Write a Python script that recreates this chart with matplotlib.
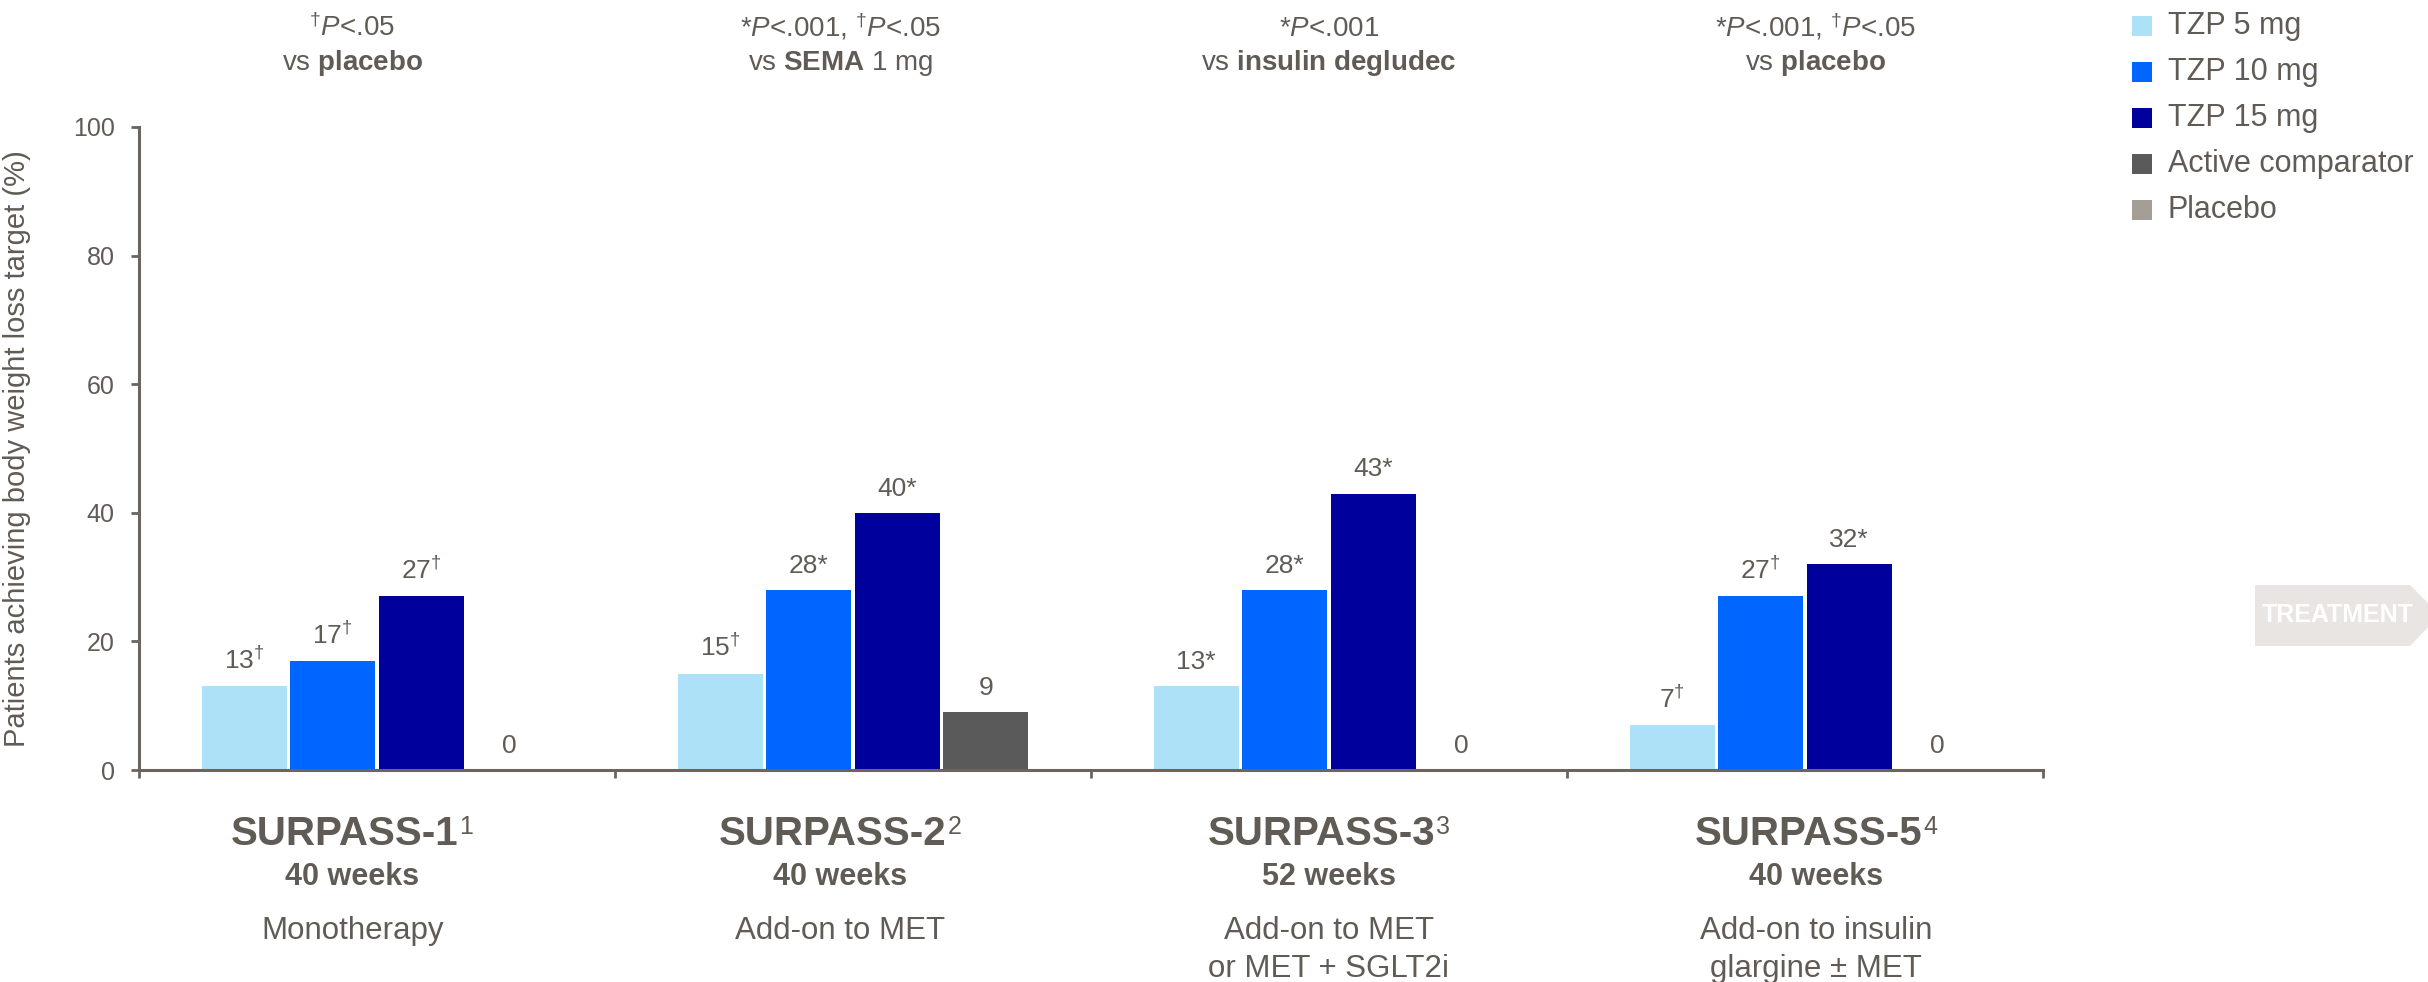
import matplotlib
matplotlib.use("Agg")
import matplotlib.pyplot as plt
import numpy as np
from matplotlib.transforms import blended_transform_factory, offset_copy
from matplotlib.patches import Rectangle, Polygon

# ---- data -------------------------------------------------------------
trials = ["SURPASS-1", "SURPASS-2", "SURPASS-3", "SURPASS-5"]
trial_refs = ["1", "2", "3", "4"]
durations = ["40 weeks", "40 weeks", "52 weeks", "40 weeks"]
settings = [["Monotherapy"], ["Add-on to MET"],
            ["Add-on to MET", "or MET + SGLT2i"],
            ["Add-on to insulin", "glargine ± MET"]]
sig_notes = [r"$^{\mathrm{†}}\mathit{P}$<.05",
             r"*$\mathit{P}$<.001, $^{\mathrm{†}}\mathit{P}$<.05",
             r"*$\mathit{P}$<.001",
             r"*$\mathit{P}$<.001, $^{\mathrm{†}}\mathit{P}$<.05"]
vs_notes = [r"vs $\mathbf{placebo}$", r"vs $\mathbf{SEMA}$ 1 mg",
            r"vs $\mathbf{insulin}$ $\mathbf{degludec}$", r"vs $\mathbf{placebo}$"]

tzp5 = [13, 15, 13, 7]
tzp10 = [17, 28, 28, 27]
tzp15 = [27, 40, 43, 32]
control = [0, 9, 0, 0]
control_kind = ["Placebo", "Active comparator", "Active comparator", "Placebo"]

tzp5_sig = ["†", "†", "*", "†"]
tzp10_sig = ["†", "*", "*", "†"]
tzp15_sig = ["†", "*", "*", "*"]
control_sig = ["", "", "", ""]

legend_labels = ["TZP 5 mg", "TZP 10 mg", "TZP 15 mg", "Active comparator", "Placebo"]
yticks = [0, 20, 40, 60, 80, 100]
ylabel = "Patients achieving body weight loss target (%)"

# ---- style ------------------------------------------------------------
colors = {"TZP 5 mg": "#ADE1F8", "TZP 10 mg": "#0066FF", "TZP 15 mg": "#00009C",
          "Active comparator": "#5A5A5A", "Placebo": "#A59E96"}
TXT = "#615B55"
AX = "#6B6560"
SANS = "Liberation Sans"

plt.rcParams["font.family"] = [SANS, "DejaVu Sans"]
plt.rcParams["mathtext.fontset"] = "custom"
plt.rcParams["mathtext.rm"] = SANS
plt.rcParams["mathtext.it"] = SANS + ":italic"
plt.rcParams["mathtext.bf"] = SANS + ":bold"

W, H, DPI = 2428, 982, 100
fig = plt.figure(figsize=(W / DPI, H / DPI), dpi=DPI)

x_left, x_right, y_zero, y_top = 139, 2043, 770, 127
ax = fig.add_axes([x_left / W, 1 - y_zero / H, (x_right - x_left) / W, (y_zero - y_top) / H])
ax.set_xlim(-0.5, 3.5)
ax.set_ylim(0, 100)

def fy(px):
    return 1 - px / H

# ---- bars -------------------------------------------------------------
step, width = 0.186, 0.179
x = np.arange(len(trials))
series = [(tzp5, tzp5_sig, ["TZP 5 mg"] * 4),
          (tzp10, tzp10_sig, ["TZP 10 mg"] * 4),
          (tzp15, tzp15_sig, ["TZP 15 mg"] * 4),
          (control, control_sig, control_kind)]

for k, (vals, sigs, kinds) in enumerate(series):
    pos = x + (k - 1.5) * step
    ax.bar(pos, vals, width=width, color=[colors[c] for c in kinds],
           linewidth=0, zorder=2)
    for xp, v, s in zip(pos, vals, sigs):
        label = f"{v}"
        if s == "†":
            label += r"$^{\mathrm{†}}$"
        elif s == "*":
            label += "*"
        ax.annotate(label, (xp, v), xytext=(0, 12.3), textcoords="offset points",
                    ha="center", va="baseline", fontsize=19, color=TXT)

# ---- axes -------------------------------------------------------------
for side in ["top", "right"]:
    ax.spines[side].set_visible(False)
for side in ["left", "bottom"]:
    ax.spines[side].set_color(AX)
    ax.spines[side].set_linewidth(2.2)
ax.set_yticks(yticks)
ax.set_yticklabels([str(t) for t in yticks], fontsize=18, color=TXT)
ax.tick_params(axis="y", length=5.5, width=2.0, color=AX, pad=12)
ax.set_xticks(np.arange(-0.5, 4.0, 1.0))
ax.set_xticklabels([])
ax.tick_params(axis="x", length=6, width=2.0, color=AX)
ax.set_ylabel(ylabel, fontsize=21, color=TXT)
ax.yaxis.set_label_coords((31 - x_left) / (x_right - x_left), 0.5)

# ---- group captions ---------------------------------------------------
caption_shift = [-0.052, -0.027, 0.0, 0.023]
trans = blended_transform_factory(ax.transData, fig.transFigure)
renderer = fig.canvas.get_renderer()
for i in range(len(trials)):
    cx = i + caption_shift[i]
    ax.text(cx, fy(36), sig_notes[i], transform=trans, ha="center", va="baseline",
            fontsize=20, color=TXT)
    ax.text(cx, fy(70), vs_notes[i], transform=trans, ha="center", va="baseline",
            fontsize=20, color=TXT)

    # trial name followed by its reference number as a superscript
    name = ax.text(cx, fy(845), trials[i], transform=trans, ha="center",
                   va="baseline", fontsize=29, fontweight="bold", color=TXT)
    ref = ax.text(cx, fy(845), trial_refs[i], transform=trans, ha="left",
                  va="baseline", fontsize=18, color=TXT)
    w_name = name.get_window_extent(renderer).width
    w_ref = ref.get_window_extent(renderer).width
    gap = 1
    shift = (w_ref + gap) / 2 * 72 / DPI
    name.set_transform(offset_copy(trans, fig=fig, x=-shift, y=0, units="points"))
    ref.set_transform(offset_copy(trans, fig=fig,
                                  x=(w_name / 2 + gap) * 72 / DPI - shift,
                                  y=11 * 72 / DPI, units="points"))

    ax.text(cx, fy(885), durations[i], transform=trans, ha="center", va="baseline",
            fontsize=22, fontweight="bold", color=TXT)
    for j, line in enumerate(settings[i]):
        ax.text(cx, fy(939 + 38 * j), line, transform=trans, ha="center",
                va="baseline", fontsize=22.5, color=TXT)

# ---- legend -----------------------------------------------------------
for r, name in enumerate(legend_labels):
    yc = 26 + 46 * r
    fig.add_artist(Rectangle((2132 / W, fy(yc + 10)), 20 / W, 20 / H,
                             transform=fig.transFigure, color=colors[name], lw=0))
    fig.text(2168 / W, fy(yc), name, ha="left", va="center", fontsize=22, color=TXT)

# ---- section tag ------------------------------------------------------
tag = np.array([(2255, 585), (2410, 585), (2440, 615), (2410, 646), (2255, 646)], float)
tag[:, 0] /= W
tag[:, 1] = 1 - tag[:, 1] / H
fig.add_artist(Polygon(tag, closed=True, transform=fig.transFigure,
                       facecolor="#E8E5E2", edgecolor="none"))
fig.text(2338 / W, fy(615), "TREATMENT", ha="center", va="center",
         fontsize=18, fontweight="bold", color="white")

fig.savefig("out.png", dpi=DPI, facecolor="white")
